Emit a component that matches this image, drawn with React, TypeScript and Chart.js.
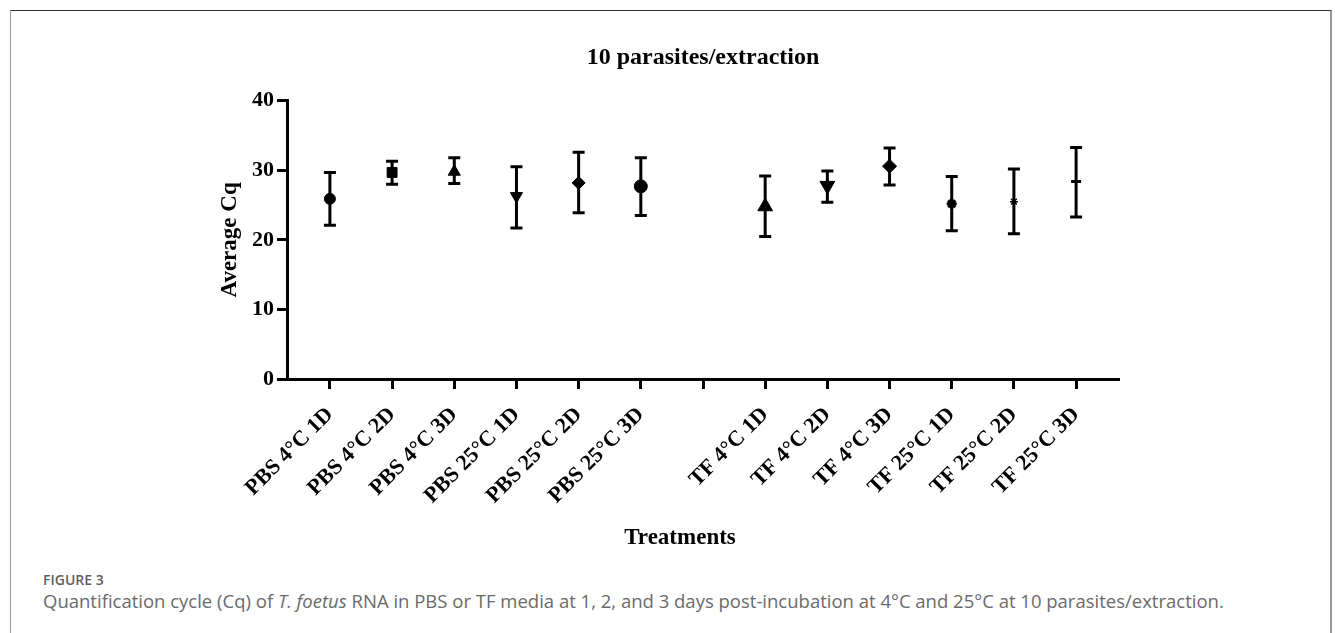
import React, { useEffect, useRef } from 'react';
import { Chart, registerables } from 'chart.js';

Chart.register(...registerables);

// ---- data ----
const tickLabels = [
  'PBS 4°C 1D', 'PBS 4°C 2D', 'PBS 4°C 3D', 'PBS 25°C 1D', 'PBS 25°C 2D', 'PBS 25°C 3D',
  '',
  'TF 4°C 1D', 'TF 4°C 2D', 'TF 4°C 3D', 'TF 25°C 1D', 'TF 25°C 2D', 'TF 25°C 3D',
];
const treatments = tickLabels.filter((l) => l !== '');
const meanCq = [25.9, 29.7, 29.8, 26.3, 28.2, 27.7, 24.8, 27.8, 30.6, 25.2, 25.5, 28.4];
const upperCq = [29.7, 31.3, 31.8, 30.5, 32.6, 31.8, 29.2, 29.9, 33.2, 29.1, 30.2, 33.3];
const lowerCq = [22.1, 28.0, 28.1, 21.7, 23.9, 23.5, 20.5, 25.4, 27.9, 21.3, 20.9, 23.3];
const yTicks = [0, 10, 20, 30, 40];

// ---- marker styles ----
const markerStyle = ['circle', 'rect', 'triangle', 'triangle', 'rectRot', 'circle', 'triangle', 'triangle', 'rectRot', 'star', 'star', 'line'];
const markerRotation = [0, 0, 0, 180, 0, 0, 0, 180, 0, 0, 0, 0];
const markerRadius = [5.5, 7, 7, 7, 6.5, 6.5, 8.5, 8.5, 7, 5, 4, 5];
const markerBorder = [1, 1, 1, 1, 1, 1, 1, 1, 1, 3, 1.5, 3];

const SERIF = "'Liberation Serif', 'Times New Roman', serif";

const errorBars = {
  id: 'errorBars',
  beforeDatasetsDraw(chart: any) {
    const { ctx, scales } = chart;
    const xs = scales.x;
    const ys = scales.y;
    const pts = chart.data.datasets[0].data as any[];
    ctx.save();
    ctx.strokeStyle = '#000';
    ctx.lineWidth = 3;
    ctx.lineCap = 'butt';
    pts.forEach((p) => {
      const px = xs.getPixelForValue(p.x);
      const top = ys.getPixelForValue(p.yMax);
      const bot = ys.getPixelForValue(p.yMin);
      ctx.beginPath();
      ctx.moveTo(px, top - 1.5);
      ctx.lineTo(px, bot + 1.5);
      ctx.moveTo(px - 6, top);
      ctx.lineTo(px + 6, top);
      ctx.moveTo(px - 6, bot);
      ctx.lineTo(px + 6, bot);
      ctx.stroke();
    });
    ctx.restore();
  },
};

const xAxisTitle = {
  id: 'xAxisTitle',
  afterDraw(chart: any) {
    const { ctx, chartArea, scales } = chart;
    ctx.save();
    ctx.font = `bold 23px ${SERIF}`;
    ctx.fillStyle = '#000';
    ctx.textAlign = 'center';
    ctx.textBaseline = 'middle';
    ctx.fillText('Treatments', (chartArea.left + chartArea.right) / 2 - 23, scales.x.bottom - 16);
    ctx.restore();
  },
};

export default function App() {
  const ref = useRef<HTMLCanvasElement | null>(null);

  useEffect(() => {
    if (!ref.current) return;
    const positions = treatments.map((t) => tickLabels.indexOf(t) + 1);
    const points = positions.map((x, i) => ({ x, y: meanCq[i], yMin: lowerCq[i], yMax: upperCq[i] }));
    const chart = new Chart(ref.current, {
      type: 'scatter',
      data: {
        datasets: [
          {
            data: points as any,
            pointStyle: markerStyle as any,
            rotation: markerRotation as any,
            pointRadius: markerRadius as any,
            pointHoverRadius: markerRadius as any,
            pointBorderWidth: markerBorder as any,
            backgroundColor: '#000',
            borderColor: '#000',
            showLine: false,
          } as any,
        ],
      },
      plugins: [errorBars, xAxisTitle],
      options: {
        animation: false,
        responsive: false,
        devicePixelRatio: 1,
        layout: { padding: { left: 200, right: 216, top: 10, bottom: 6 } },
        plugins: {
          legend: { display: false },
          tooltip: { enabled: false },
          title: {
            display: true,
            text: '10 parasites/extraction',
            fullSize: false,
            color: '#000',
            font: { family: SERIF, size: 24, weight: 'bold', lineHeight: 1.2 },
            padding: { top: 33, bottom: 29 },
          },
        },
        scales: {
          x: {
            type: 'linear',
            min: 0.31,
            max: 13.69,
            afterBuildTicks: (scale: any) => {
              scale.ticks = tickLabels.map((_, i) => ({ value: i + 1 }));
            },
            afterFit: (scale: any) => {
              scale.height = 175;
            },
            ticks: {
              autoSkip: false,
              minRotation: 45,
              maxRotation: 45,
              color: '#000',
              padding: 13,
              font: { family: SERIF, size: 22, weight: 'bold' },
              callback: (v: any) => tickLabels[Math.round(Number(v)) - 1] ?? '',
            },
            grid: {
              display: true,
              drawOnChartArea: false,
              drawTicks: true,
              tickLength: 10,
              tickWidth: 3,
              tickColor: '#000',
            },
            border: { display: true, color: '#000', width: 3 },
          },
          y: {
            type: 'linear',
            min: 0,
            max: 40,
            afterBuildTicks: (scale: any) => {
              scale.ticks = yTicks.map((v) => ({ value: v }));
            },
            afterFit: (scale: any) => {
              scale.width = 87;
            },
            ticks: {
              color: '#000',
              padding: 3,
              font: { family: SERIF, size: 22, weight: 'bold' },
            },
            grid: {
              display: true,
              drawOnChartArea: false,
              drawTicks: true,
              tickLength: 10,
              tickWidth: 3,
              tickColor: '#000',
            },
            border: { display: true, color: '#000', width: 3 },
            title: {
              display: true,
              text: 'Average Cq',
              color: '#000',
              font: { family: SERIF, size: 23, weight: 'bold', lineHeight: 1.2 },
              padding: { top: 16, bottom: 0 },
            },
          },
        },
      } as any,
    });
    return () => chart.destroy();
  }, []);

  return (
    <div style={{ position: 'fixed', left: 0, top: 0, width: 1335, height: 633, background: '#fff', overflow: 'hidden' }}>
      <div
        style={{
          position: 'absolute',
          left: 10,
          top: 10,
          width: 1322,
          height: 700,
          boxSizing: 'border-box',
          borderTop: '1px solid #333',
          borderLeft: '1px solid #999',
          borderRight: '2px solid #999',
        }}
      />
      <canvas ref={ref} width={1335} height={560} style={{ position: 'absolute', left: 0, top: 0, width: 1335, height: 560 }} />
      <div
        style={{
          position: 'absolute',
          left: 43,
          top: 570,
          fontFamily: "'Open Sans', 'Noto Sans', sans-serif",
          fontWeight: 600,
          fontSize: 14,
          color: '#5f5f5f',
          whiteSpace: 'nowrap',
        }}
      >
        FIGURE 3
      </div>
      <div
        style={{
          position: 'absolute',
          left: 43,
          top: 588,
          fontFamily: "'Open Sans', 'Noto Sans', sans-serif",
          fontSize: 18.5,
          color: '#6a6a6a',
          whiteSpace: 'nowrap',
        }}
      >
        Quantification cycle (Cq) of <i>T. foetus</i> RNA in PBS or TF media at 1, 2, and 3 days post-incubation at 4°C and 25°C at 10 parasites/extraction.
      </div>
    </div>
  );
}
